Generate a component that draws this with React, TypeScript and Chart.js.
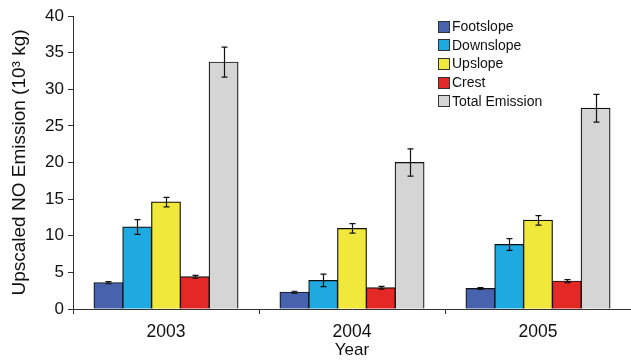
import React, { useEffect, useRef } from "react";
import { Chart, registerables } from "chart.js";

Chart.register(...registerables);

// Years on the category axis
const years = ["2003", "2004", "2005"];

// Upscaled NO emission per landscape position (10^3 kg)
const footslope = [3.6, 2.3, 2.8];
const downslope = [11.2, 3.9, 8.8];
const upslope = [14.6, 11.0, 12.1];
const crest = [4.4, 2.9, 3.8];
const totalEmission = [33.7, 20.0, 27.4];

// Error bar half-widths for each series
const footslopeErr = [0.15, 0.12, 0.12];
const downslopeErr = [1.0, 0.85, 0.8];
const upslopeErr = [0.65, 0.65, 0.65];
const crestErr = [0.2, 0.2, 0.2];
const totalErr = [2.05, 1.85, 1.9];

const yTicks = [0, 5, 10, 15, 20, 25, 30, 35, 40];

const FONT = '"Liberation Sans", Arial, Helvetica, sans-serif';

const series = [
  { label: "Footslope", data: footslope, err: footslopeErr, color: "#4763AE" },
  { label: "Downslope", data: downslope, err: downslopeErr, color: "#1FA9E1" },
  { label: "Upslope", data: upslope, err: upslopeErr, color: "#F0E93B" },
  { label: "Crest", data: crest, err: crestErr, color: "#E32826" },
  { label: "Total Emission", data: totalEmission, err: totalErr, color: "#D5D5D5" },
];

// Vertical error bars with caps on top of each bar
const errorBars = {
  id: "errorBars",
  afterDatasetsDraw(chart: any) {
    const ctx = chart.ctx;
    const yScale = chart.scales.y;
    ctx.save();
    ctx.strokeStyle = "#111";
    ctx.lineWidth = 1.2;
    chart.data.datasets.forEach((ds: any, i: number) => {
      const meta = chart.getDatasetMeta(i);
      meta.data.forEach((bar: any, j: number) => {
        const v = ds.data[j];
        const e = ds.errors[j];
        const x = Math.round(bar.x) + 0.5;
        const yTop = yScale.getPixelForValue(v + e);
        const yBot = yScale.getPixelForValue(v - e);
        const cap = 3;
        ctx.beginPath();
        ctx.moveTo(x, yTop);
        ctx.lineTo(x, yBot);
        ctx.moveTo(x - cap, yTop);
        ctx.lineTo(x + cap, yTop);
        ctx.moveTo(x - cap, yBot);
        ctx.lineTo(x + cap, yBot);
        ctx.stroke();
      });
    });
    ctx.restore();
  },
};

// Legend drawn inside the plot, upper right
const insideLegend = {
  id: "insideLegend",
  afterDraw(chart: any) {
    const ctx = chart.ctx;
    const left = 438.5;
    const top = 26;
    const rowGap = 18.7;
    const box = 11;
    ctx.save();
    ctx.font = `14px ${FONT}`;
    ctx.textBaseline = "middle";
    ctx.textAlign = "left";
    chart.data.datasets.forEach((ds: any, i: number) => {
      const cy = top + i * rowGap;
      ctx.fillStyle = ds.backgroundColor;
      ctx.fillRect(left, Math.round(cy - box / 2) + 0.5, box, box);
      ctx.strokeStyle = "#333";
      ctx.lineWidth = 1;
      ctx.strokeRect(left, Math.round(cy - box / 2) + 0.5, box, box);
      ctx.fillStyle = "#111";
      ctx.fillText(ds.label, left + box + 2.5, cy + 1);
    });
    ctx.restore();
  },
};

export default function App() {
  const canvasRef = useRef<HTMLCanvasElement | null>(null);

  useEffect(() => {
    const canvas = canvasRef.current;
    if (!canvas) return;
    const chart = new Chart(canvas, {
      type: "bar",
      data: {
        labels: years,
        datasets: series.map((s) => ({
          label: s.label,
          data: s.data,
          errors: s.err,
          backgroundColor: s.color,
          borderColor: "#111",
          borderWidth: 1.2,
          inflateAmount: 0.5,
          barPercentage: 1,
          categoryPercentage: 0.774,
        })) as any,
      },
      options: {
        animation: false,
        responsive: false,
        devicePixelRatio: 1,
        layout: { padding: { top: 16, right: 0, left: 0, bottom: 0 } },
        plugins: {
          legend: { display: false },
          tooltip: { enabled: false },
        },
        scales: {
          x: {
            afterFit: (scale: any) => {
              scale.height = 55;
            },
            grid: {
              offset: true,
              drawOnChartArea: false,
              tickLength: 5,
              color: (ctx: any) => (ctx.type === "tick" ? "#333" : "rgba(0,0,0,0)"),
            },
            border: { color: "#333", width: 1 },
            ticks: {
              color: "#111",
              font: { family: FONT, size: 17.5 },
              padding: 8,
            },
            title: {
              display: true,
              text: "Year",
              color: "#111",
              font: { family: FONT, size: 17 },
              padding: { top: 0, bottom: 3 },
            },
          },
          y: {
            min: 0,
            max: 40,
            afterFit: (scale: any) => {
              scale.width = 73;
            },
            afterBuildTicks: (scale: any) => {
              scale.ticks = yTicks.map((v) => ({ value: v }));
            },
            grid: {
              drawOnChartArea: false,
              tickLength: 5,
              color: "#333",
            },
            border: { color: "#333", width: 1 },
            ticks: {
              color: "#111",
              font: { family: FONT, size: 17 },
              padding: 4,
            },
            title: {
              display: true,
              text: "Upscaled NO Emission (10³ kg)",
              color: "#111",
              font: { family: FONT, size: 19 },
              padding: { top: 8, bottom: 0 },
            },
          },
        },
      },
      plugins: [errorBars, insideLegend],
    });
    return () => chart.destroy();
  }, []);

  return (
    <div style={{ position: "fixed", left: 0, top: 0, width: 631, height: 364, background: "#fff" }}>
      <canvas ref={canvasRef} width={631} height={364} style={{ display: "block" }} />
    </div>
  );
}
